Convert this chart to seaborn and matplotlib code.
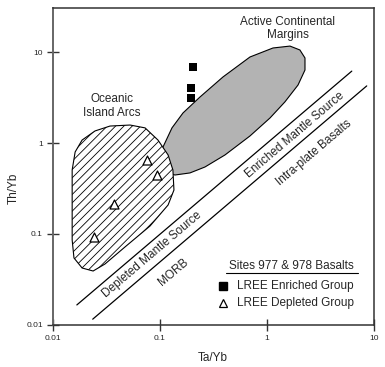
import matplotlib
matplotlib.use("Agg")
import matplotlib.pyplot as plt
import seaborn as sns
import pandas as pd

# ---- data ----
enriched_ta_yb = [0.205, 0.195, 0.195]
enriched_th_yb = [6.8, 4.0, 3.1]
depleted_ta_yb = [0.075, 0.094, 0.037, 0.024]
depleted_th_yb = [0.65, 0.445, 0.214, 0.092]

# field outlines
arc_ta_yb = [0.0525, 0.0725, 0.0957, 0.119, 0.132, 0.135, 0.119, 0.0806, 0.0471,
             0.0306, 0.0237, 0.0187, 0.0157, 0.0151, 0.0151, 0.0151, 0.0161, 0.0187,
             0.0247, 0.0341]
arc_th_yb = [1.58, 1.47, 1.08, 0.74, 0.506, 0.304, 0.208, 0.122, 0.0718,
             0.0466, 0.039, 0.0421, 0.0543, 0.0857, 0.236, 0.506, 0.798, 1.08,
             1.36, 1.54]
acm_ta_yb = [0.1, 0.1067, 0.1294, 0.164, 0.2366, 0.388, 0.693, 1.138, 1.64, 2.03,
             2.265, 2.265, 1.95, 1.47, 1.067, 0.693, 0.405, 0.263, 0.1905, 0.138, 0.1113]
acm_th_yb = [0.652, 0.906, 1.47, 2.146, 3.22, 5.35, 8.87, 11.15, 11.7, 10.6,
             8.65, 6.38, 4.36, 2.84, 1.89, 1.197, 0.74, 0.545, 0.469, 0.445, 0.481]

# mantle-array lines
upper_ta_yb = [0.0167, 6.2]
upper_th_yb = [0.0165, 6.2]
lower_ta_yb = [0.0235, 8.55]
lower_th_yb = [0.0115, 4.26]

x_ticks = [0.01, 0.1, 1, 10]
x_tick_labels = ["0.01", "0.1", "1", "10"]
y_ticks = [0.01, 0.1, 1, 10]
y_tick_labels = ["0.01", "0.1", "1", "10"]

sns.set_theme(style="white")
plt.rcParams["font.family"] = ["Liberation Sans", "DejaVu Sans"]
plt.rcParams["hatch.linewidth"] = 0.6

fig = plt.figure(figsize=(3.85, 3.67), dpi=100)
ax = fig.add_axes([0.1377, 0.1153, 0.8337, 0.8621])
ax.set_xscale("log")
ax.set_yscale("log")
ax.set_xlim(0.01, 10)
ax.set_ylim(0.01, 30.5)

# fields
ax.fill(acm_ta_yb, acm_th_yb, facecolor="#b3b3b3", edgecolor="black", lw=0.8, zorder=1)
ax.fill(arc_ta_yb, arc_th_yb, facecolor="white", edgecolor="black", hatch="////",
        lw=0.8, zorder=2)

# lines
lines = pd.DataFrame({
    "x": upper_ta_yb + lower_ta_yb,
    "y": upper_th_yb + lower_th_yb,
    "g": ["upper"] * 2 + ["lower"] * 2,
})
sns.lineplot(data=lines, x="x", y="y", units="g", estimator=None, color="black",
             lw=0.9, ax=ax, legend=False, zorder=3)

# points
sns.scatterplot(x=enriched_ta_yb, y=enriched_th_yb, marker="s", color="black",
                s=30, linewidth=0, ax=ax, zorder=5)
sns.scatterplot(x=depleted_ta_yb, y=depleted_th_yb, marker="^", facecolor="white",
                edgecolor="black", s=42, linewidth=0.9, ax=ax, zorder=5)

fs = 8.5
ax.text(1.57, 18.3, "Active Continental\nMargins", ha="center", va="center",
        fontsize=fs, linespacing=1.15)
ax.text(0.0356, 2.56, "Oceanic\nIsland Arcs", ha="center", va="center",
        fontsize=fs, linespacing=1.15)
ang = 40.4
ax.text(0.0842, 0.0586, "Depleted Mantle Source", rotation=ang, rotation_mode="anchor",
        ha="center", va="center", fontsize=fs)
ax.text(0.1323, 0.038, "MORB", rotation=ang, rotation_mode="anchor",
        ha="center", va="center", fontsize=fs)
ax.text(1.827, 1.228, "Enriched Mantle Source", rotation=ang, rotation_mode="anchor",
        ha="center", va="center", fontsize=fs)
ax.text(2.75, 0.778, "Intra-plate Basalts", rotation=ang, rotation_mode="anchor",
        ha="center", va="center", fontsize=fs)

# legend (manual)
ax.text(0.7436, 0.1865, "Sites 977 & 978 Basalts", transform=ax.transAxes,
        ha="center", va="center", fontsize=fs)
ax.plot([0.538, 0.949], [0.1643, 0.1643], transform=ax.transAxes, color="black", lw=0.8)
ax.plot([0.5305], [0.1223], transform=ax.transAxes, marker="s", color="black",
        markersize=5.2, linestyle="none")
ax.plot([0.5305], [0.0695], transform=ax.transAxes, marker="^", markerfacecolor="white",
        markeredgecolor="black", markersize=6.2, markeredgewidth=0.9, linestyle="none")
ax.text(0.574, 0.1223, "LREE Enriched Group", transform=ax.transAxes,
        ha="left", va="center", fontsize=fs)
ax.text(0.574, 0.0695, "LREE Depleted Group", transform=ax.transAxes,
        ha="left", va="center", fontsize=fs)

# axes styling
ax.set_xticks(x_ticks)
ax.set_xticklabels(x_tick_labels)
ax.set_yticks(y_ticks)
ax.set_yticklabels(y_tick_labels)
ax.minorticks_off()
ax.tick_params(axis="both", which="major", direction="inout", length=8.5, width=1.0,
               color="#333333", labelsize=6, pad=3, left=True, bottom=True)
for sp in ax.spines.values():
    sp.set_color("#333333")
    sp.set_linewidth(1.1)
ax.spines["left"].set_color("#666666")
ax.spines["left"].set_linewidth(1.4)
ax.set_xlabel("Ta/Yb", fontsize=fs)
ax.set_ylabel("Th/Yb", fontsize=fs)
ax.xaxis.set_label_coords(0.498, -0.086)
ax.yaxis.set_label_coords(-0.103, 0.432)
ax.grid(False)

fig.savefig("out.png", dpi=100)
